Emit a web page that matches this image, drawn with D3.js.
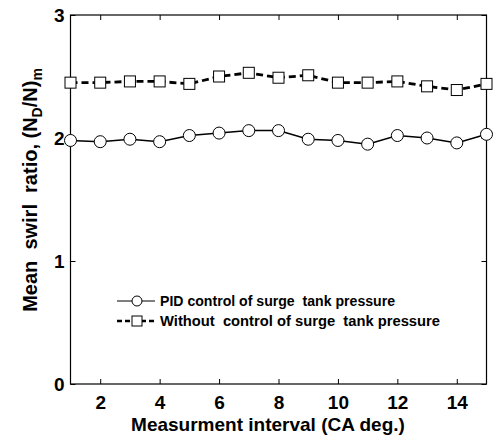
<!DOCTYPE html>
<html>
<head>
<meta charset="utf-8">
<script src="https://cdn.jsdelivr.net/npm/d3@7"></script>
<style>
  body { margin: 0; background: #fff; }
  svg { display: block; font-family: "Liberation Sans", Arial, sans-serif; }
</style>
</head>
<body>
<div class="container"></div>
<script>
// measurement intervals
var intervals = [1, 2, 3, 4, 5, 6, 7, 8, 9, 10, 11, 12, 13, 14, 15];
// PID control of surge tank pressure
var pidRatio = [1.98, 1.97, 1.99, 1.97, 2.02, 2.04, 2.06, 2.06, 1.99, 1.98, 1.95, 2.02, 2.00, 1.96, 2.03];
// without control
var noCtrlRatio = [2.45, 2.45, 2.46, 2.46, 2.44, 2.50, 2.53, 2.49, 2.51, 2.45, 2.45, 2.46, 2.42, 2.39, 2.44];
var xTicks = [2, 4, 6, 8, 10, 12, 14];
var yTicks = [0, 1, 2, 3];
var legendLabels = ["PID control of surge  tank pressure", "Without  control of surge  tank pressure"];

const width = 493, height = 441;
const plotLeft = 70.5, plotRight = 486.5, plotTop = 15, plotBottom = 384;

const x = d3.scaleLinear().domain([1, 15]).range([plotLeft, plotRight]);
const y = d3.scaleLinear().domain([0, 3]).range([plotBottom, plotTop]);

const svg = d3.select('.container')
  .append('svg')
  .attr('width', width)
  .attr('height', height);

// frame
svg.append('rect')
  .attr('x', plotLeft).attr('y', plotTop)
  .attr('width', plotRight - plotLeft).attr('height', plotBottom - plotTop)
  .attr('fill', 'none').attr('stroke', '#000').attr('stroke-width', 1.2);

// axes, ticks inward
const xAxis = svg.append('g')
  .attr('transform', 'translate(0,' + plotBottom + ')')
  .call(d3.axisBottom(x).tickValues(xTicks).tickSize(-5).tickPadding(12));
const xTop = svg.append('g')
  .attr('transform', 'translate(0,' + plotTop + ')')
  .call(d3.axisTop(x).tickValues(xTicks).tickSize(-5).tickFormat(''));
const yAxis = svg.append('g')
  .attr('transform', 'translate(' + plotLeft + ',0)')
  .call(d3.axisLeft(y).tickValues(yTicks).tickSize(-5).tickPadding(6).tickFormat(d3.format('d')));
const yRight = svg.append('g')
  .attr('transform', 'translate(' + plotRight + ',0)')
  .call(d3.axisRight(y).tickValues(yTicks).tickSize(-5).tickFormat(''));

[xAxis, xTop, yAxis, yRight].forEach(function (g) {
  g.select('.domain').remove();
  g.selectAll('line').attr('stroke', '#000').attr('stroke-width', 1);
});
[xAxis, yAxis].forEach(function (g) {
  g.selectAll('text')
    .attr('font-family', '"Liberation Sans", Arial, sans-serif')
    .attr('font-size', 19).attr('font-weight', 'bold').attr('fill', '#000');
});

// series
const line = d3.line().x((d, i) => x(intervals[i])).y(d => y(d));

svg.append('path')
  .datum(pidRatio)
  .attr('fill', 'none').attr('stroke', '#000').attr('stroke-width', 1.5)
  .attr('d', line);

svg.append('path')
  .datum(noCtrlRatio)
  .attr('fill', 'none').attr('stroke', '#000').attr('stroke-width', 2.8)
  .attr('stroke-dasharray', '7,4')
  .attr('d', line);

svg.append('g')
  .selectAll('circle')
  .data(pidRatio)
  .join('circle')
  .attr('cx', (d, i) => x(intervals[i]))
  .attr('cy', d => y(d))
  .attr('r', 6)
  .attr('fill', '#fff').attr('stroke', '#000').attr('stroke-width', 1);

svg.append('g')
  .selectAll('rect')
  .data(noCtrlRatio)
  .join('rect')
  .attr('x', (d, i) => x(intervals[i]) - 5.5)
  .attr('y', d => y(d) - 5.5)
  .attr('width', 11).attr('height', 11)
  .attr('fill', '#fff').attr('stroke', '#000').attr('stroke-width', 1);

// legend
const legend = svg.append('g').attr('transform', 'translate(117,301)');
const rows = legend.selectAll('g')
  .data(legendLabels)
  .join('g')
  .attr('transform', (d, i) => 'translate(0,' + i * 20 + ')');

rows.append('line')
  .attr('x1', 0).attr('x2', 38).attr('y1', 0).attr('y2', 0)
  .attr('stroke', '#000')
  .attr('stroke-width', (d, i) => i ? 2.6 : 1.2)
  .attr('stroke-dasharray', (d, i) => i ? '5,3' : null);
rows.filter((d, i) => i === 0).append('circle')
  .attr('cx', 20).attr('cy', 0).attr('r', 5)
  .attr('fill', '#fff').attr('stroke', '#000');
rows.filter((d, i) => i === 1).append('rect')
  .attr('x', 15).attr('y', -5).attr('width', 10).attr('height', 10)
  .attr('fill', '#fff').attr('stroke', '#000');
rows.append('text')
  .attr('x', 43).attr('dy', '0.35em')
  .attr('font-size', 14).attr('font-weight', 'bold')
  .attr('textLength', (d, i) => i ? 280 : 235)
  .attr('lengthAdjust', 'spacingAndGlyphs')
  .style('white-space', 'pre')
  .text(d => d);

// axis titles
svg.append('text')
  .attr('x', 268).attr('y', 431)
  .attr('text-anchor', 'middle')
  .attr('font-size', 19).attr('font-weight', 'bold')
  .text('Measurment interval (CA deg.)');

const yTitle = svg.append('text')
  .attr('transform', 'translate(37,' + 190 + ') rotate(-90)')
  .attr('text-anchor', 'middle')
  .attr('font-size', 20).attr('font-weight', 'bold')
  .style('white-space', 'pre');
yTitle.append('tspan').text('Mean  swirl  ratio, (N');
yTitle.append('tspan').attr('dy', 5).attr('font-size', 14).text('D');
yTitle.append('tspan').attr('dy', -5).text('/N)');
yTitle.append('tspan').attr('dy', 5).attr('font-size', 14).text('m');
</script>
</body>
</html>
